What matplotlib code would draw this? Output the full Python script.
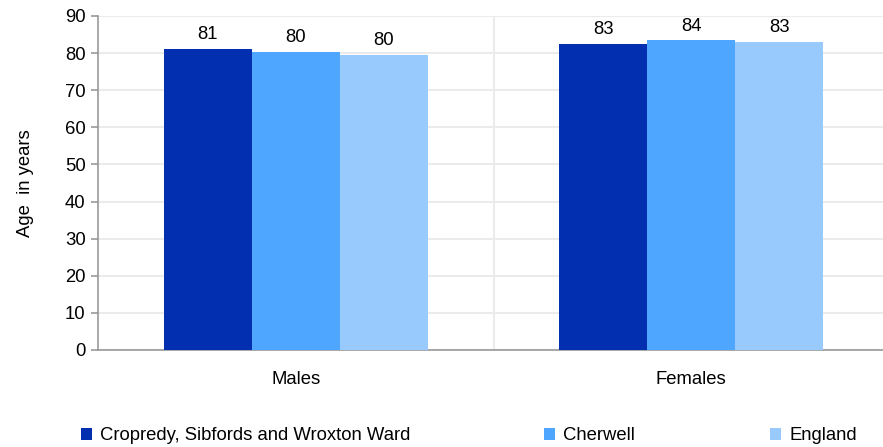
import matplotlib
matplotlib.use("Agg")
import matplotlib.pyplot as plt
import numpy as np

categories = ["Males", "Females"]
series_names = ["Cropredy, Sibfords and Wroxton Ward", "Cherwell", "England"]
ward = [81.1, 82.5]
cherwell = [80.3, 83.5]
england = [79.6, 83.0]
labels = [["81", "83"], ["80", "84"], ["80", "83"]]
colors = ["#022EB0", "#4EA6FE", "#99CAFE"]

plt.rcParams['font.family'] = ['Liberation Sans', 'DejaVu Sans']
FS = 13.3

fig = plt.figure(figsize=(8.83, 4.47), dpi=100)
ax = fig.add_axes([98/883, 97/447, 791/883, 334/447])

x = np.arange(len(categories))
w = 0.2225
data = [ward, cherwell, england]
for i, (vals, c) in enumerate(zip(data, colors)):
    pos = x + (i - 1) * w
    ax.bar(pos, vals, width=w, color=c, label=series_names[i], zorder=3)
    for p, v, lab in zip(pos, vals, labels[i]):
        ax.text(p, v + 1.5, lab, ha='center', va='bottom', fontsize=FS, color='#000000')

ax.set_xlim(-0.5, 1.5)
ax.set_ylim(0, 90)
ax.set_yticks(range(0, 91, 10))
ax.set_xticks(x)
ax.set_xticklabels(categories, fontsize=FS)
ax.tick_params(axis='x', length=0, pad=15)
ax.tick_params(axis='y', labelsize=FS, length=5, color='#999999', width=1.2, pad=4)
ax.yaxis.grid(True, color='#ebebeb', linewidth=1.5, zorder=0)
ax.axvline(0.5, color='#ebebeb', linewidth=1.5, zorder=0)
for s in ['top', 'right']:
    ax.spines[s].set_visible(False)
ax.spines['left'].set_color('#999999')
ax.spines['left'].set_linewidth(1.2)
ax.spines['bottom'].set_color('#999999')
ax.spines['bottom'].set_linewidth(1.2)
ax.set_ylabel("Age  in years", fontsize=FS)
ax.yaxis.set_label_coords(-64/791, 0.5)

handles, lbls = ax.get_legend_handles_labels()
leg_x = [81/883, 544/883, 770/883]
for h, l, lx in zip(handles, lbls, leg_x):
    fig.legend([h], [l], loc='center left', bbox_to_anchor=(lx, 11/447), frameon=False,
               fontsize=FS, handlelength=0.6, handleheight=0.6, handletextpad=0.45,
               borderpad=0, borderaxespad=0)

fig.savefig("out.png", dpi=100)
